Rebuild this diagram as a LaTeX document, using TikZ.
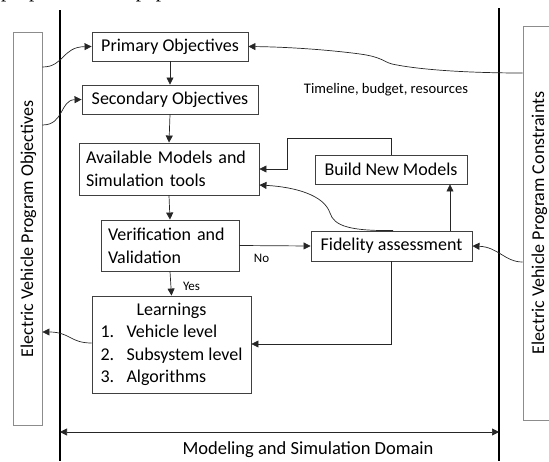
\documentclass[tikz,border=0pt]{standalone}
\usepackage{fontspec}
\setmainfont{Carlito}
\newfontfamily\serifcap{Liberation Serif}
\usetikzlibrary{arrows.meta}
\tikzset{
  box/.style={draw=black!75, line width=0.9pt, inner sep=0pt, align=center, font=\fontsize{18}{23}\selectfont},
  sidebox/.style={draw=black!45, line width=0.9pt, inner sep=0pt},
  sidetext/.style={rotate=90, inner sep=0pt, font=\fontsize{18}{21}\selectfont},
  conn/.style={draw=black!85, line width=0.7pt, -{Triangle[length=7pt,width=7pt]}},
  wall/.style={draw=black, line width=2.6pt},
  lbl/.style={inner sep=0pt, font=\fontsize{13}{15}\selectfont},
}
\begin{document}
\begin{tikzpicture}[x=1pt,y=-1pt]
\useasboundingbox (0,0) rectangle (549,461);
\clip (0,0) rectangle (549,461);

% line of running text above the figure
\node[anchor=base west, inner sep=0pt, font=\serifcap\fontsize{21}{24}\selectfont] (prev) at (1,-3) {proposed in the paper.};

% domain walls
\coordinate (wl1) at (60,10);  \coordinate (wl2) at (60,461);
\coordinate (wr1) at (499,8);  \coordinate (wr2) at (499,461);
\draw[wall] (wl1) -- (wl2);
\draw[wall] (wr1) -- (wr2);

% program side boxes
\node[sidebox, minimum width=29pt, minimum height=393pt] (obj) at (27.5,228.5) {};
\node[sidetext] (objt) at (28.5,229) {Electric Vehicle Program Objectives};
\node[sidebox, minimum width=40pt, minimum height=394pt] (con) at (543,223) {};
\node[sidetext] (cont) at (539.5,223) {Electric Vehicle Program Constraints};

% process boxes
\node[box, minimum width=156pt, minimum height=29pt] (prim) at (170,46.5) {Primary Objectives};
\node[box, minimum width=176pt, minimum height=29pt] (sec) at (170,99.5) {Secondary Objectives};
\node[box, minimum width=180pt, minimum height=52pt, text width=166pt, align=left] (avail) at (169,169)
  {Available Models and\\Simulation tools};
\node[box, minimum width=138pt, minimum height=51pt, text width=124pt, align=left] (vv) at (170,245.5)
  {Verification and\\Validation};
\node[box, minimum width=159pt, minimum height=97pt, font=\fontsize{18}{22.5}\selectfont] (learn) at (171.5,344.5)
  {\begin{tabular}{@{}p{26pt}@{}l@{}}\multicolumn{2}{c}{Learnings}\\1.&Vehicle level\\2.&Subsystem level\\3.&Algorithms\end{tabular}};
\node[box, minimum width=152pt, minimum height=29pt] (build) at (391,169.5) {Build New Models};
\node[box, minimum width=161pt, minimum height=30pt] (fid) at (391.5,246) {Fidelity assessment};

% labels
\node[lbl, font=\fontsize{14.6}{17}\selectfont] (tbr) at (386,90) {Timeline, budget, resources};
\node[lbl] (yes) at (191.5,286) {Yes};
\node[lbl] (no) at (261.5,258) {No};
\node[inner sep=0pt, font=\fontsize{18.5}{21}\selectfont] (dom) at (308,450) {Modeling and Simulation Domain};

% main flow
\draw[conn] (prim.south) -- (sec.north);
\draw[conn] (sec.south) -- (avail.north);
\draw[conn] (avail.south) -- (vv.north);
\draw[conn] (vv.south) -- (learn.north);
\draw[conn] (vv.east) -- (fid.west);
\draw[conn] ([xshift=58.5pt]fid.north) -- ([xshift=59pt]build.south);
\draw[conn] (build.north) |- (287,138) |- (avail.east);
\draw[conn] (fid.south) |- ([yshift=0.5pt]learn.east);
\draw[conn] ([xshift=1.5pt]fid.north) .. controls (350,231) and (334,226) .. (330,213)
  .. controls (324,195) and (295,187) .. ([yshift=-16pt]avail.east);

% links to the program boxes
\draw[conn] ([yshift=-39pt]con.west) .. controls (505,262) and (498,247) .. (fid.east);
\draw[conn] ([yshift=150pt]con.west) .. controls (470,73) and (420,70) .. (392,64)
  .. controls (384,62) and (382,57) .. (360,54) .. controls (330,50) and (290,47) .. (prim.east);
\draw[conn] ([yshift=161.5pt]obj.east) .. controls (64,67) and (62,47) .. (prim.west);
\draw[conn] ([yshift=103.5pt]obj.east) .. controls (64,125) and (60,100) .. (sec.west);
\draw[conn] ([yshift=1.5pt]learn.west) .. controls (70,343) and (70,332) .. ([yshift=-103.5pt]obj.east);

% domain extent
\draw[draw=black!85, line width=0.7pt, {Triangle[length=7pt,width=7pt]}-{Triangle[length=7pt,width=7pt]}] (60,432) -- (499,432);
\end{tikzpicture}
\end{document}
